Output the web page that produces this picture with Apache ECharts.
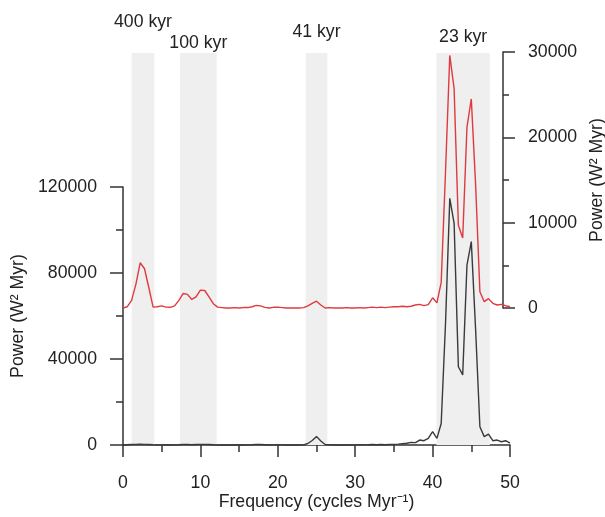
<!DOCTYPE html>
<html>
<head>
<meta charset="utf-8">
<script src="https://cdn.jsdelivr.net/npm/echarts@6/dist/echarts.min.js"></script>
<style>
html,body{margin:0;padding:0;background:#fff;}
#chart{width:605px;height:517px;}
</style>
</head>
<body>
<div id="chart"></div>
<script>
// Frequency (cycles Myr^-1)
const freq = [0, 0.56, 1.11, 1.67, 2.22, 2.78, 3.33, 3.89, 4.44, 5.00,
  5.56, 6.11, 6.67, 7.22, 7.78, 8.33, 8.89, 9.44, 10.00, 10.56,
  11.11, 11.67, 12.22, 12.78, 13.33, 13.89, 14.44, 15.00, 15.56, 16.11,
  16.67, 17.22, 17.78, 18.33, 18.89, 19.44, 20.00, 20.56, 21.11, 21.67,
  22.22, 22.78, 23.33, 23.89, 24.44, 25.00, 25.56, 26.11, 26.67, 27.22,
  27.78, 28.33, 28.89, 29.44, 30.00, 30.56, 31.11, 31.67, 32.22, 32.78,
  33.33, 33.89, 34.44, 35.00, 35.56, 36.11, 36.67, 37.22, 37.78, 38.33,
  38.89, 39.44, 40.00, 40.56, 41.11, 41.67, 42.22, 42.78, 43.33, 43.89,
  44.44, 45.00, 45.56, 46.11, 46.67, 47.22, 47.78, 48.33, 48.89, 49.44, 50.00];

// Red spectrum (right axis, W^2 Myr)
const redPower = [0, 150, 900, 2800, 5300, 4600, 2400, 100, 150, 250,
  100, 80, 250, 900, 1700, 1600, 1000, 1300, 2100, 2050,
  1300, 500, 100, 50, 0, 0, 50, 0, 50, 50,
  150, 300, 250, 80, 0, 80, 100, 50, 0, 0,
  0, 0, 50, 250, 550, 800, 350, 0, 50, 0,
  0, 0, 50, 0, 0, 50, 0, 50, 100, 50,
  100, 50, 100, 150, 150, 200, 150, 200, 350, 430,
  270, 400, 1200, 600, 3000, 16000, 29600, 25700, 9700, 8200,
  21200, 24500, 14400, 1900, 740, 1100, 550, 350, 430, 270, 150];

// Black spectrum (left axis, W^2 Myr)
const blackPower = [0, 100, 200, 300, 400, 300, 200, 100, 50, 50,
  0, 0, 50, 100, 200, 200, 100, 200, 300, 300,
  200, 100, 0, 0, 0, 0, 0, 0, 0, 50,
  100, 300, 200, 100, 0, 50, 100, 50, 0, 0,
  0, 0, 50, 700, 2100, 3900, 1900, 200, 100, 0,
  0, 0, 50, 0, 50, 100, 50, 100, 200, 100,
  200, 100, 200, 300, 400, 600, 800, 1200, 1100, 2300,
  2000, 3100, 6200, 3100, 10000, 56600, 114700, 103100, 36400, 32600,
  83700, 94600, 53500, 8500, 3900, 5100, 2000, 2300, 1500, 2000, 900];

// Orbital bands
const bandLabels = ['400 kyr', '100 kyr', '41 kyr', '23 kyr'];
const bandStart = [1.12, 7.36, 23.6, 40.5];
const bandEnd = [4.04, 12.1, 26.4, 47.4];

const FONT = "'Liberation Sans', Arial, sans-serif";
const FS = 17.7;
const TXT = '#222';
const AX = '#333';
const labelDist = [22, 1, 12, 7];

const bandData = bandLabels.map((n, i) => [
  {name: n, xAxis: bandStart[i], label: {distance: labelDist[i]}},
  {xAxis: bandEnd[i]}
]);

const plain = v => String(v);

const axisCommon = {
  axisLine: {show: true, onZero: false, lineStyle: {color: AX, width: 1.5}},
  axisTick: {show: true, lineStyle: {color: AX, width: 1.5}},
  minorTick: {show: true, splitNumber: 2, lineStyle: {color: AX, width: 1.5}},
  splitLine: {show: false},
  minorSplitLine: {show: false},
  axisLabel: {color: TXT, fontSize: FS, fontFamily: FONT, formatter: plain},
  nameTextStyle: {color: TXT, fontSize: FS, fontFamily: FONT}
};

const chart = echarts.init(document.getElementById('chart'), null, {renderer: 'canvas'});
chart.setOption({
  backgroundColor: '#ffffff',
  animation: false,
  textStyle: {fontFamily: FONT},
  grid: [
    {left: 123, top: 187, width: 387, height: 258, outerBoundsMode: 'none', containLabel: false},
    {left: 123, top: 52, width: 387, height: 256, outerBoundsMode: 'none', containLabel: false},
    {left: 123, top: 53, width: 387, height: 392, outerBoundsMode: 'none', containLabel: false}
  ],
  xAxis: [
    Object.assign({}, axisCommon, {
      type: 'value', gridIndex: 0, min: 0, max: 50, interval: 10,
      axisTick: Object.assign({}, axisCommon.axisTick, {length: 12}),
      minorTick: Object.assign({}, axisCommon.minorTick, {length: 7}),
      axisLabel: Object.assign({}, axisCommon.axisLabel, {margin: 29}),
      name: 'Frequency (cycles Myr\u207B\u00B9)',
      nameLocation: 'middle', nameGap: 48
    }),
    {type: 'value', gridIndex: 1, min: 0, max: 50, show: false},
    {type: 'value', gridIndex: 2, min: 0, max: 50, show: false}
  ],
  yAxis: [
    Object.assign({}, axisCommon, {
      type: 'value', gridIndex: 0, position: 'left', min: 0, max: 120000, interval: 40000,
      axisTick: Object.assign({}, axisCommon.axisTick, {length: 13}),
      minorTick: Object.assign({}, axisCommon.minorTick, {length: 7}),
      axisLabel: Object.assign({}, axisCommon.axisLabel, {margin: 26}),
      name: 'Power (W\u00B2 Myr)', nameLocation: 'middle', nameGap: 82
    }),
    Object.assign({}, axisCommon, {
      type: 'value', gridIndex: 1, position: 'right', offset: -7, min: 0, max: 30000, interval: 10000,
      axisTick: Object.assign({}, axisCommon.axisTick, {length: 12}),
      minorTick: Object.assign({}, axisCommon.minorTick, {length: 6}),
      axisLabel: Object.assign({}, axisCommon.axisLabel, {margin: 25}),
      name: 'Power (W\u00B2 Myr)', nameLocation: 'middle', nameGap: 79
    }),
    {type: 'value', gridIndex: 2, min: 0, max: 1, show: false}
  ],
  series: [
    {
      type: 'line', xAxisIndex: 2, yAxisIndex: 2, z: 0,
      data: [[0, 0]], showSymbol: false, symbol: 'none',
      lineStyle: {opacity: 0}, silent: true,
      markArea: {
        silent: true,
        itemStyle: {color: '#efefef', opacity: 1},
        label: {show: true, position: 'top', color: TXT, fontSize: FS, fontFamily: FONT},
        data: bandData
      }
    },
    {
      name: 'red', type: 'line', xAxisIndex: 1, yAxisIndex: 1, z: 3,
      data: freq.map((f, i) => [f, redPower[i]]),
      showSymbol: false, symbol: 'none', clip: false,
      lineStyle: {color: '#df3a3f', width: 1.4}
    },
    {
      name: 'black', type: 'line', xAxisIndex: 0, yAxisIndex: 0, z: 4,
      data: freq.map((f, i) => [f, blackPower[i]]),
      showSymbol: false, symbol: 'none', clip: false,
      lineStyle: {color: '#3a3a3a', width: 1.4}
    }
  ]
});
</script>
</body>
</html>
